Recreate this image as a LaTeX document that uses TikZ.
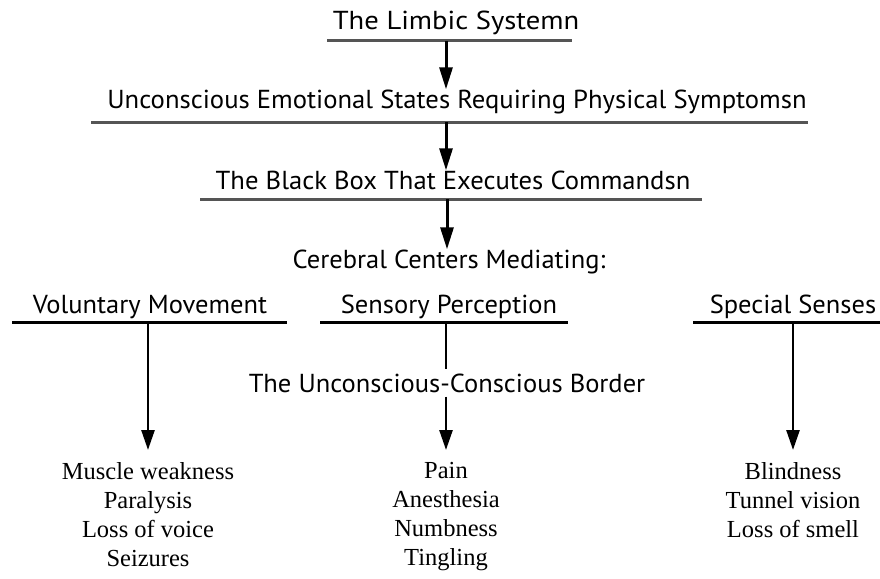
\documentclass[tikz,border=0pt]{standalone}
\usepackage{fontspec}
\usetikzlibrary{arrows.meta}
\newfontfamily\hdrfont{PT Sans}
\newfontfamily\lstfont{Liberation Serif}
\newcommand\widen[2]{\scalebox{#1}[1]{#2}}
\begin{document}
\begin{tikzpicture}[x=1pt,y=-1pt,
  hdr/.style={font=\hdrfont\fontsize{26}{30}\selectfont, inner sep=0pt, anchor=base},
  sub/.style={font=\hdrfont\fontsize{26}{30}\selectfont, inner sep=0pt, anchor=base},
  lst/.style={font=\lstfont\fontsize{24.5}{29}\selectfont, align=center, anchor=north, inner xsep=0pt, inner ysep=12pt},
  gline/.style={line width=3pt, draw={rgb,255:red,85;green,85;blue,85}},
  bline/.style={line width=3pt, draw=black},
  arr/.style={line width=3pt, -{Triangle[length=22pt,width=13pt]}},
  vline/.style={line width=2.6pt},
  varr/.style={line width=2.6pt, -{Triangle[length=20pt,width=13pt]}}]
\useasboundingbox (0,0) rectangle (880,578);
% top chain
\node[hdr] (t1) at (456,30) {\widen{1.10}{The Limbic Systemn}};
\node[hdr] (t2) at (457,108) {\widen{1.025}{Unconscious Emotional States Requiring Physical Symptomsn}};
\node[hdr] (t3) at (453,189) {\widen{1.025}{The Black Box That Executes Commandsn}};
\node[hdr] (t4) at (449,268) {\widen{1.02}{Cerebral Centers Mediating:}};
\coordinate (h1l) at (327,41); \coordinate (h1r) at (572,41); \coordinate (h1m) at (446,41);
\coordinate (h2l) at (91,122); \coordinate (h2r) at (808,122); \coordinate (h2m) at (446,122);
\coordinate (h3l) at (200,199); \coordinate (h3r) at (702,199); \coordinate (h3m) at (447,199);
\draw[gline] (h1l) -- (h1r);
\draw[gline] (h2l) -- (h2r);
\draw[gline] (h3l) -- (h3r);
\draw[arr] (h1m) -- (h1m |- t2.north);
\draw[arr] (h2m) -- (h2m |- t3.north);
\draw[arr] (h3m) -- (h3m |- t4.north);
% branches
\node[sub] (vm) at (150,313) {\widen{1.02}{Voluntary Movement}};
\node[sub] (sp) at (449,313) {\widen{1.02}{Sensory Perception}};
\node[sub] (ss) at (793,313) {\widen{1.02}{Special Senses}};
\coordinate (b1l) at (12,322); \coordinate (b1r) at (287,322); \coordinate (b1m) at (148,322);
\coordinate (b2l) at (320,322); \coordinate (b2r) at (568,322); \coordinate (b2m) at (446,322);
\coordinate (b3l) at (693,322); \coordinate (b3r) at (880,322); \coordinate (b3m) at (793,322);
\draw[bline] (b1l) -- (b1r);
\draw[bline] (b2l) -- (b2r);
\draw[bline] (b3l) -- (b3r);
\node[sub, inner ysep=4pt] (ucb) at (447,392) {\widen{1.02}{The Unconscious-Conscious Border}};
\node[lst] (l1) at (148,450) {Muscle weakness\\Paralysis\\Loss of voice\\Seizures};
\node[lst] (l2) at (446,450) {Pain\\Anesthesia\\Numbness\\Tingling};
\node[lst] (l3) at (793,450) {Blindness\\Tunnel vision\\Loss of smell};
\draw[varr] (b1m) -- (l1.north);
\draw[vline] (b2m) -- (b2m |- ucb.north);
\draw[varr] (b2m |- ucb.south) -- (l2.north);
\draw[varr] (b3m) -- (l3.north);
\end{tikzpicture}
\end{document}
